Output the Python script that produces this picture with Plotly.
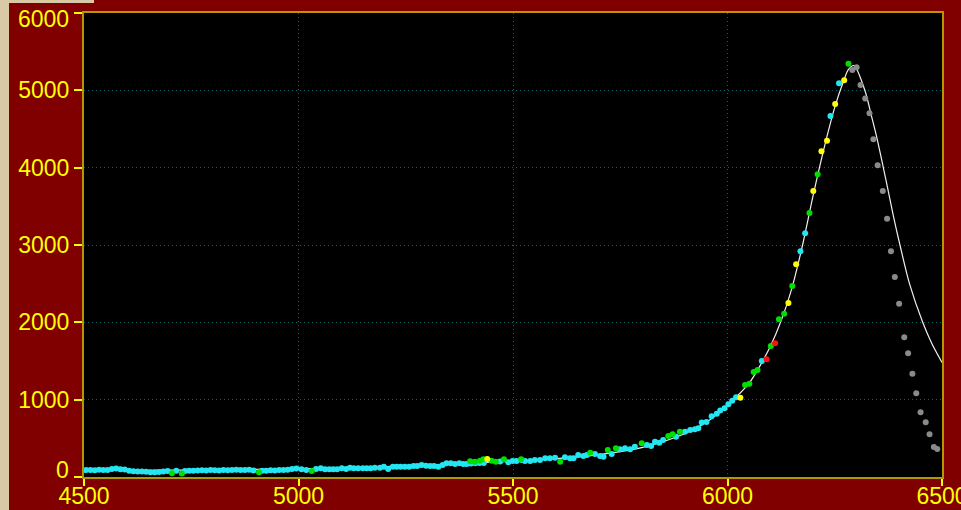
import plotly.graph_objects as go

# ---- measured points, grouped by marker colour ----
cyan_x = [4505, 4515, 4525, 4535, 4545, 4555, 4565, 4575, 4585, 4595,
          4605, 4615, 4625, 4635, 4645, 4655, 4665, 4675, 4685, 4695,
          4715, 4735, 4745, 4755, 4765, 4775, 4785, 4795, 4805, 4815,
          4825, 4835, 4845, 4855, 4865, 4875, 4885, 4895, 4915, 4925,
          4935, 4945, 4955, 4965, 4975, 4985, 4995,
          5007, 5018, 5041, 5052, 5062, 5072, 5081, 5090, 5101, 5111,
          5120, 5129, 5139, 5150, 5159, 5168, 5178, 5190, 5199, 5209,
          5220, 5229, 5238, 5248, 5258, 5268, 5277, 5287, 5297, 5307,
          5316, 5326, 5336, 5345, 5355, 5365, 5375, 5384, 5392,
          5402, 5412, 5422, 5432, 5470, 5489, 5499, 5508, 5520,
          5528, 5540, 5551, 5563, 5575, 5586, 5598, 5621, 5633, 5641,
          5652, 5664, 5672, 5691, 5703, 5711, 5730, 5749, 5761, 5773,
          5784, 5812, 5822, 5831, 5841, 5850, 5880, 5901, 5913, 5924,
          5932, 5940, 5951, 5963, 5975, 5983, 5993, 6002, 6011, 6020,
          6080, 6170, 6181, 6240, 6260]
cyan_y = [90, 92, 88, 95, 92, 90, 105, 110, 100, 98,
          82, 75, 72, 70, 68, 62, 60, 65, 72, 78,
          80, 78, 80, 82, 85, 88, 85, 90, 88, 85,
          92, 88, 90, 95, 90, 92, 95, 85, 80, 82,
          88, 85, 92, 90, 95, 105, 110,
          99, 90, 103, 112, 99, 99, 99, 99, 112, 103,
          121, 112, 112, 112, 112, 112, 121, 121, 133, 103,
          133, 133, 133, 133, 133, 142, 142, 155, 146, 142,
          142, 133, 155, 177, 177, 168, 177, 168, 168,
          175, 178, 180, 182, 200, 190, 207, 207, 220,
          207, 207, 220, 220, 242, 242, 250, 255, 242, 242,
          284, 272, 284, 297, 272, 262, 297, 358, 371, 358,
          392, 414, 401, 456, 444, 478, 521, 586, 608, 617,
          630, 705, 710, 785, 818, 860, 890, 940, 987, 1030,
          1500, 2918, 3151, 4668, 5090]

green_x = [4705, 4728, 4908, 5031, 5400, 5411, 5423, 5431, 5450, 5460,
           5479, 5519, 5610, 5680, 5721, 5740, 5800, 5862, 5872, 5889,
           6041, 6051, 6061, 6070, 6101, 6120, 6132, 6151, 6191, 6210,
           6282]
green_y = [47, 45, 62, 78, 205, 198, 211, 229, 211, 198,
           229, 229, 198, 314, 349, 371, 436, 530, 552, 586,
           1190, 1207, 1358, 1383, 1694, 2039, 2112, 2470, 3414, 3914,
           5344]

yellow_x = [5440, 6030, 6142, 6160, 6200, 6219, 6232, 6251, 6272]
yellow_y = [233, 1026, 2250, 2750, 3698, 4211, 4348, 4823, 5129]

red_x = [6091, 6111]
red_y = [1522, 1729]

gray_x = [6291, 6301, 6310, 6321, 6331, 6340, 6350, 6362, 6372, 6381,
          6390, 6400, 6412, 6421, 6431, 6440, 6450, 6462, 6471, 6481,
          6489]
gray_y = [5263, 5297, 5069, 4896, 4703, 4366, 4030, 3698, 3340, 2918,
          2586, 2241, 1806, 1600, 1336, 1082, 837, 707, 552, 388,
          362]

# ---- fitted profile ----
fit_x = [4500, 4600, 4700, 4800, 4900, 5000, 5100, 5200, 5300, 5400,
         5500, 5600, 5700, 5800, 5900, 5950, 6000, 6050, 6075, 6100,
         6125, 6150, 6175, 6200, 6225, 6250, 6270, 6282, 6295, 6320,
         6336, 6349, 6371, 6387, 6402, 6424, 6455, 6476, 6500]
fit_y = [85, 85, 88, 92, 98, 105, 118, 135, 155, 178,
         205, 238, 290, 380, 560, 705, 930, 1210, 1430, 1690,
         2020, 2440, 3000, 3650, 4250, 4780, 5110, 5270, 5320, 5004,
         4660, 4366, 3797, 3366, 3000, 2504, 2000, 1729, 1480]

x_ticks = [4500, 5000, 5500, 6000, 6500]
y_ticks = [0, 1000, 2000, 3000, 4000, 5000, 6000]
y_ticktext = ["", "1000", "2000", "3000", "4000", "5000", ""]

FONT = "Liberation Sans, Arial, sans-serif"
YELLOW = "#FFFF00"
FRAME = "#B49600"
GRID = "#0A6266"

fig = go.Figure()

fig.add_trace(go.Scatter(x=fit_x, y=fit_y, mode="lines",
                         line=dict(color="#F0F0F0", width=1.2, shape="spline", smoothing=0.8),
                         hoverinfo="skip"))


def dots(xs, ys, color):
    fig.add_trace(go.Scatter(x=xs, y=ys, mode="markers",
                             marker=dict(color=color, size=6, line=dict(width=0))))


dots(gray_x, gray_y, "#8A8A8A")
dots(cyan_x, cyan_y, "#22E6F2")
dots(green_x, green_y, "#00E000")
dots(yellow_x, yellow_y, "#FFFF00")
dots(red_x, red_y, "#FF1010")

axis_common = dict(
    showline=True, linecolor=FRAME, linewidth=2, mirror=True,
    showgrid=True, gridcolor=GRID, gridwidth=1, griddash="1px,3px",
    zeroline=False, ticks="outside", tickcolor=YELLOW, tickwidth=1.5,
    tickfont=dict(family=FONT, size=23, color=YELLOW),
    automargin=False, ticklabeloverflow="allow",
)

fig.update_xaxes(range=[4500, 6500], tickvals=x_ticks, ticklen=7,
                 ticklabelstandoff=-10, **axis_common)
fig.update_yaxes(range=[0, 6000], tickvals=y_ticks, ticktext=y_ticktext,
                 ticklen=8, **axis_common)

# end labels of the value axis are nudged inward to stay beside the frame
for val, txt, dy in [(0, "0", 7), (6000, "6000", -6)]:
    fig.add_annotation(x=0, xref="paper", y=val, yref="y", text=txt,
                       showarrow=False, xanchor="right", yanchor="middle",
                       xshift=-13, yshift=dy,
                       font=dict(family=FONT, size=23, color=YELLOW))

# parchment edge at the left and top-left
fig.add_shape(type="rect", xref="paper", yref="paper",
              x0=-84 / 858, x1=-75 / 858, y0=-33 / 464, y1=1 + 13 / 464,
              fillcolor="#D9C9A6", line=dict(width=0), layer="below")
fig.add_shape(type="rect", xref="paper", yref="paper",
              x0=-84 / 858, x1=10 / 858, y0=1 + 10 / 464, y1=1 + 13 / 464,
              fillcolor="#D9C9A6", line=dict(width=0), layer="below")

fig.update_layout(
    width=961, height=510,
    margin=dict(l=84, r=19, t=13, b=33),
    paper_bgcolor="#800000", plot_bgcolor="#000000",
    showlegend=False,
    font=dict(family=FONT, color=YELLOW),
)

fig.write_html("out.html")
